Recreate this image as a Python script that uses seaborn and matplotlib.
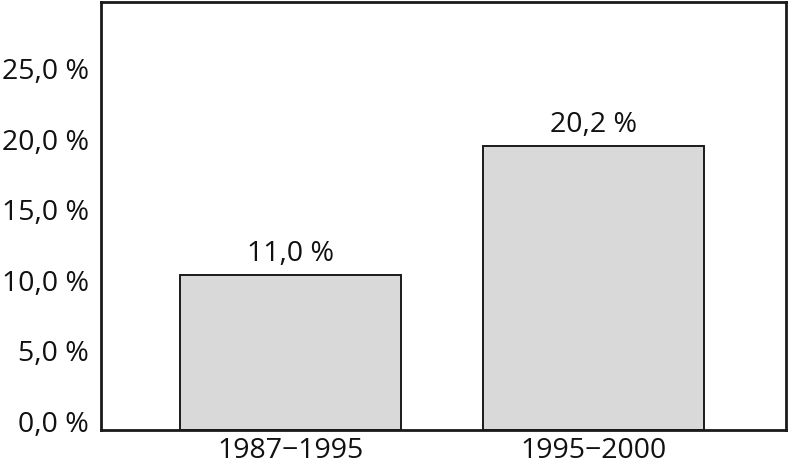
import matplotlib
matplotlib.use("Agg")
import matplotlib.pyplot as plt
import matplotlib.ticker as mticker
import matplotlib.transforms as mtransforms
import pandas as pd
import seaborn as sns

sns.set_theme(style="white")
plt.rcParams["font.family"] = ["Open Sans", "DejaVu Sans"]

periods = ["1987−1995", "1995−2000"]
growth = [11.0, 20.2]
y_ticks = [0, 5, 10, 15, 20, 25]

BAR_FILL = "#d9d9d9"
EDGE = "#1a1a1a"


def pct(val, _=None):
    return f"{val:.1f} %".replace(".", ",")


df = pd.DataFrame({"period": periods, "growth": growth})

fig = plt.figure(figsize=(7.9, 4.66), dpi=100)
ax = fig.add_axes([0.128, 0.077, 0.867, 0.919])

sns.barplot(data=df, x="period", y="growth", color=BAR_FILL, width=0.73,
            edgecolor=EDGE, linewidth=1.4, saturation=1, ax=ax)

ax.bar_label(ax.containers[0], labels=[pct(v) for v in growth],
             padding=5, fontsize=20.5, color="#111111")

ax.set_ylim(0, 30.4)
ax.set_xlim(-0.625, 1.635)
ax.set_yticks(y_ticks)
ax.yaxis.set_major_formatter(mticker.FuncFormatter(pct))
ax.set_xlabel("")
ax.set_ylabel("")
ax.tick_params(axis="both", length=0, labelsize=20.5, colors="#111111")
ax.tick_params(axis="y", pad=9)
ax.tick_params(axis="x", pad=5)

# tick labels sit a little above their tick positions in the original
shift = mtransforms.ScaledTranslation(0, 9 / 100, fig.dpi_scale_trans)
for lab in ax.get_yticklabels():
    lab.set_transform(lab.get_transform() + shift)

for spine in ax.spines.values():
    spine.set_visible(True)
    spine.set_edgecolor(EDGE)
    spine.set_linewidth(2)

fig.savefig("out.png", dpi=100, facecolor="white")
